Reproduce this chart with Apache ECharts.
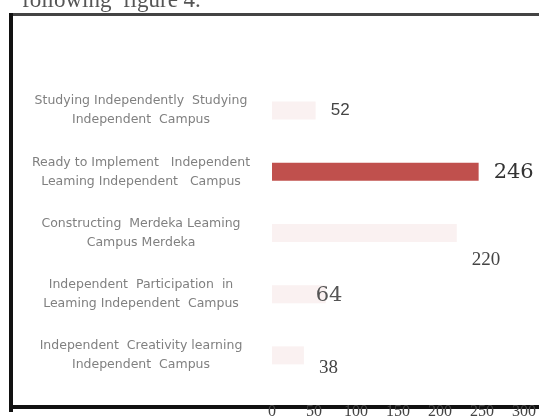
<!DOCTYPE html>
<html>
<head>
<meta charset="utf-8">
<script src="https://cdn.jsdelivr.net/npm/echarts@6/dist/echarts.min.js"></script>
<style>
  html, body { margin: 0; padding: 0; background: #fff; }
  #chart { width: 539px; height: 420px; }
</style>
</head>
<body>
<div id="chart"></div>
<script>
// categories, top to bottom as in the figure
const categories = [
  'Studying Independently  Studying\nIndependent  Campus',
  'Ready to Implement   Independent\nLeaming Independent   Campus',
  'Constructing  Merdeka Leaming\nCampus Merdeka',
  'Independent  Participation  in\nLeaming Independent  Campus',
  'Independent  Creativity learning\nIndependent  Campus',
]
const values = [52, 246, 220, 64, 38]
const xTicks = [0, 50, 100, 150, 200, 250, 300]

// label look per bar (scan has mixed fonts)
const labelLooks = [
  { fontFamily: 'Liberation Sans', fontSize: 17, color: '#444', offset: [0, 0] },
  { fontFamily: 'DejaVu Serif', fontSize: 21, color: '#333', offset: [0, 1] },
  { fontFamily: 'Liberation Serif', fontSize: 19, color: '#444', offset: [0, 27] },
  { fontFamily: 'DejaVu Serif', fontSize: 21, color: '#555', offset: [-25, 1] },
  { fontFamily: 'Liberation Serif', fontSize: 19, color: '#444', offset: [0, 13] },
]

const chart = echarts.init(document.getElementById('chart'))

chart.setOption({
  animation: false,
  grid: { left: 272, right: 14, top: 80, bottom: 29 },
  xAxis: {
    type: 'value',
    min: xTicks[0],
    max: xTicks[xTicks.length - 1],
    interval: 50,
    splitLine: { show: false },
    axisLine: { show: false },
    axisTick: { show: false },
    axisLabel: {
      margin: 18,
      fontFamily: 'Liberation Serif',
      fontSize: 16,
      color: '#444',
    },
  },
  yAxis: {
    type: 'category',
    inverse: true,
    data: categories,
    axisLine: { show: false },
    axisTick: { show: false },
    axisLabel: {
      margin: 131,
      align: 'center',
      fontFamily: 'DejaVu Sans',
      fontSize: 12.5,
      lineHeight: 19,
      color: '#808080',
    },
  },
  series: [
    {
      type: 'bar',
      barWidth: 18,
      data: values.map((v, i) => ({
        value: v,
        itemStyle: {
          color: v === Math.max(...values) ? '#c0504d' : 'rgba(192, 80, 77, 0.08)',
        },
        label: {
          show: true,
          position: 'right',
          distance: 15,
          ...labelLooks[i],
        },
      })),
    },
  ],
  graphic: [
    {
      type: 'text',
      left: 22,
      top: -11,
      style: {
        text: 'following  figure 4.',
        font: '23px "Liberation Serif"',
        fill: '#555',
      },
    },
    { type: 'rect', shape: { x: 13, y: 13, width: 526, height: 3 }, style: { fill: '#444' } },
    { type: 'rect', shape: { x: 9, y: 13, width: 4, height: 399 }, style: { fill: '#111' } },
    { type: 'rect', shape: { x: 9, y: 405, width: 530, height: 4 }, style: { fill: '#111' } },
  ],
})
</script>
</body>
</html>
